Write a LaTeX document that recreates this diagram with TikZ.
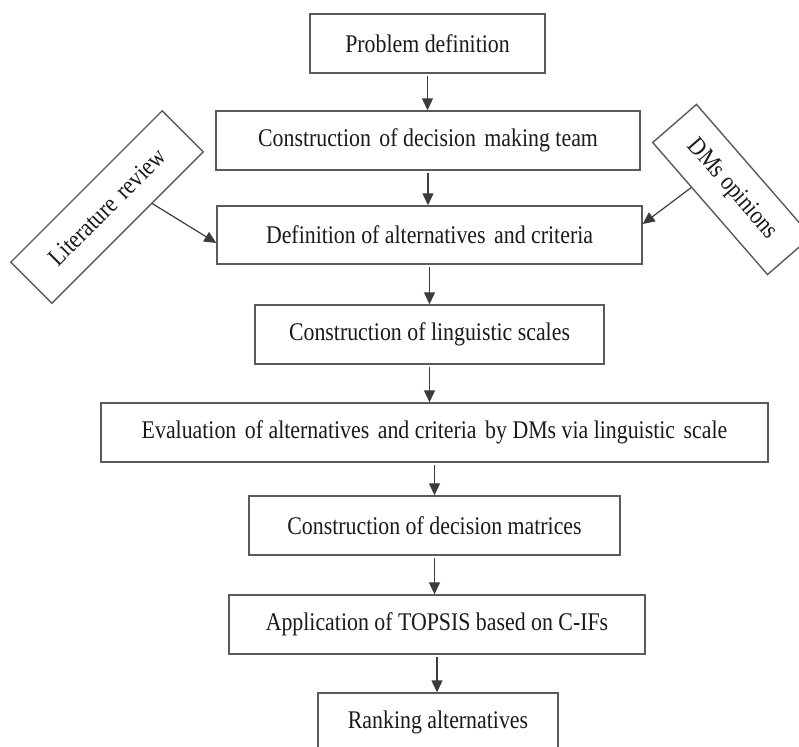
\documentclass[tikz,border=0pt]{standalone}
\usepackage{fontspec}
\setmainfont{Liberation Serif}[FakeStretch=0.86]
\usetikzlibrary{arrows.meta,calc}
\definecolor{boxgray}{HTML}{5A5A5A}
\definecolor{txt}{HTML}{1A1A1A}
\definecolor{linegray}{HTML}{3C3C3C}
\newcommand{\wsp}{\hspace{0.12em}}
\begin{document}
\begin{tikzpicture}[x=1bp,y=-1bp,
  box/.style={draw=boxgray,line width=1.4bp,minimum height=59bp,inner sep=0pt,text=txt,font=\fontsize{25.5}{28}\selectfont},
  arr/.style={draw=linegray,line width=1.2bp,shorten <=2bp,-{Triangle[width=11bp,length=12bp]}}]
\clip (0,0) rectangle (799,747);
\fill[white] (0,0) rectangle (799,747);
\node[box,minimum width=235bp] (p1) at (427.5,43.5) {Problem definition};
\node[box,minimum width=424bp] (p2) at (428,140.5) {Construction\wsp{} of decision\wsp{} making team};
\node[box,minimum width=425bp,minimum height=58bp] (p3) at (429.5,235) {Definition of alternatives\wsp{} and criteria};
\node[box,minimum width=349bp] (p4) at (429.5,334.5) {Construction of linguistic scales};
\node[box,minimum width=667bp] (p5) at (434.5,432.5) {Evaluation\wsp{} of alternatives\wsp{} and criteria\wsp{} by DMs via linguistic\wsp{} scale};
\node[box,minimum width=371bp] (p6) at (434.5,525.5) {Construction of decision matrices};
\node[box,minimum width=416bp] (p7) at (437,624.5) {Application of TOPSIS based on C-IFs};
\node[box,minimum width=240bp] (p8) at (438,722.5) {Ranking alternatives};
\node[box,minimum width=214bp,minimum height=58bp,rotate=45] (lit) at (107,207) {Literature\wsp{} review};
\node[box,minimum width=175bp,minimum height=58bp,rotate=-49] (dms) at (732,189.5) {DMs opinions};
\draw[arr] (p1.south) -- (p1.south |- p2.north);
\draw[arr] (p2.south) -- (p2.south |- p3.north);
\draw[arr] (p3.south) -- (p3.south |- p4.north);
\draw[arr] (p4.south) -- (p4.south |- p5.north);
\draw[arr] (p5.south) -- (p5.south |- p6.north);
\draw[arr] (p6.south) -- (p6.south |- p7.north);
\draw[arr] (p7.south) -- (p7.south |- p8.north);
\coordinate (litout) at ($(lit.south east)!0.34!(lit.south west)$);
\coordinate (dmsout) at ($(dms.south west)!0.34!(dms.south east)$);
\draw[arr,shorten <=0bp] (litout) -- ($(p3.west)+(0,8)$);
\draw[arr,shorten <=0bp] (dmsout) -- ($(p3.east)+(0,-11)$);
\end{tikzpicture}
\end{document}
